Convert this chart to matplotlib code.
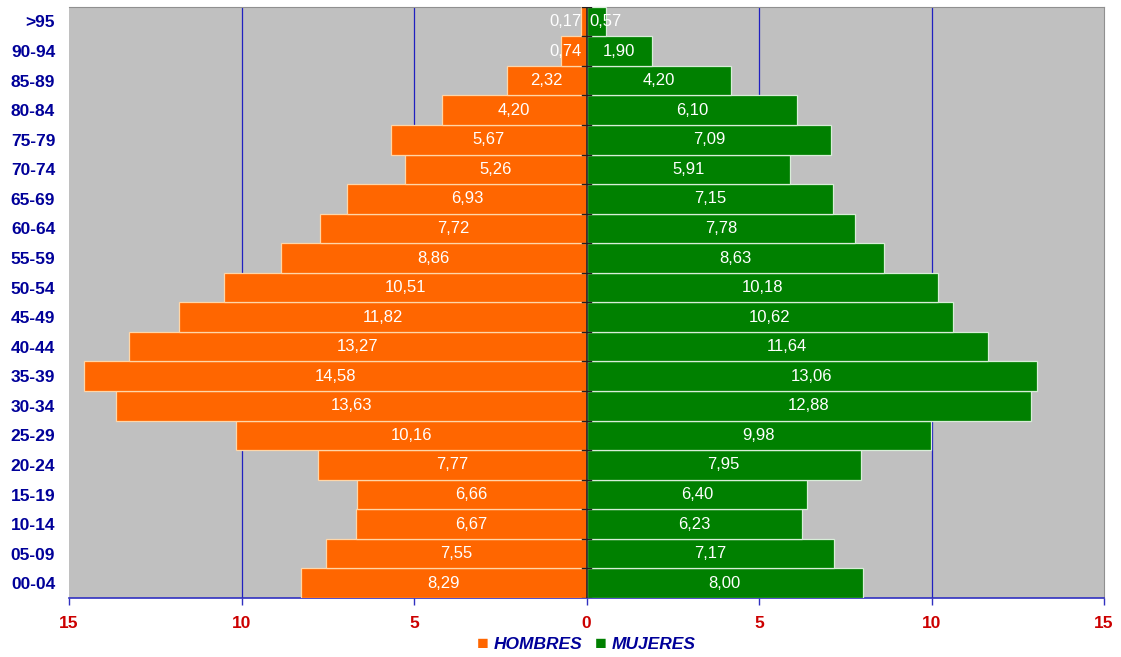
import numpy as np
import matplotlib.pyplot as plt

plt.rcParams['font.family'] = ['Liberation Sans', 'DejaVu Sans']

edades = ['00-04', '05-09', '10-14', '15-19', '20-24', '25-29', '30-34',
          '35-39', '40-44', '45-49', '50-54', '55-59', '60-64', '65-69',
          '70-74', '75-79', '80-84', '85-89', '90-94', '>95']
hombres = [8.29, 7.55, 6.67, 6.66, 7.77, 10.16, 13.63, 14.58, 13.27, 11.82,
           10.51, 8.86, 7.72, 6.93, 5.26, 5.67, 4.20, 2.32, 0.74, 0.17]
mujeres = [8.00, 7.17, 6.23, 6.40, 7.95, 9.98, 12.88, 13.06, 11.64, 10.62,
           10.18, 8.63, 7.78, 7.15, 5.91, 7.09, 6.10, 4.20, 1.90, 0.57]
ticks = [-15, -10, -5, 0, 5, 10, 15]

naranja = '#FF6600'
verde = '#008000'
azul = '#000099'
rojo = '#CC0000'

fig = plt.figure(figsize=(11.21, 6.57), dpi=100)
ax = fig.add_axes([0.0616, 0.0898, 0.9233, 0.9000])
ax.set_facecolor('#C0C0C0')

y = np.arange(len(edades))
h = np.array(hombres)
m = np.array(mujeres)
ax.barh(y, -h, height=1.0, color=naranja, edgecolor='#FFD6A8', linewidth=0.9, zorder=3)
ax.barh(y, m, height=1.0, color=verde, edgecolor='#D8EED8', linewidth=0.9, zorder=3)

def fmt(v):
    return f'{v:.2f}'.replace('.', ',')

for yi, v in zip(y, h):
    ax.text(-max(v / 2, 0.62), yi, fmt(v), color='white', fontsize=12,
            ha='center', va='center', zorder=5)
for yi, v in zip(y, m):
    ax.text(max(v / 2, 0.56), yi, fmt(v), color='white', fontsize=12,
            ha='center', va='center', zorder=5)

# vertical grid lines and the category axis at zero
for gx in [-10, -5, 5, 10]:
    ax.axvline(gx, color='#2020C0', linewidth=0.9, zorder=1)
ax.axvline(0, color='#202020', linewidth=1.2, zorder=4)
for yi in np.arange(-0.5, len(edades), 1.0):
    ax.plot([-0.12, 0.12], [yi, yi], color='#202020', linewidth=1.0, zorder=4)

ax.set_xlim(-15, 15)
ax.set_ylim(-0.5, len(edades) - 0.5)
ax.set_xticks(ticks)
ax.set_xticklabels([str(abs(t)) for t in ticks], color=rojo, fontsize=12.5,
                   fontweight='bold')
ax.set_yticks(y)
ax.set_yticklabels(edades, color=azul, fontsize=12.5, fontweight='bold')
ax.tick_params(axis='y', length=0, pad=10)
ax.tick_params(axis='x', length=5, color='#3030C0', width=1, pad=8)

ax.spines['left'].set_visible(False)
ax.spines['top'].set_color('#909090')
ax.spines['right'].set_color('#909090')
ax.spines['bottom'].set_color('#3030C0')
ax.spines['bottom'].set_linewidth(1.2)

# legend below the axis
ly = 0.0115
fig.text(0.4305, ly, '\u25A0', color=naranja, fontsize=14, ha='center', va='baseline')
fig.text(0.4405, ly, 'HOMBRES', color=azul, fontsize=12.5, fontweight='bold',
         fontstyle='italic', ha='left', va='baseline')
fig.text(0.5355, ly, '\u25A0', color=verde, fontsize=14, ha='center', va='baseline')
fig.text(0.5455, ly, 'MUJERES', color=azul, fontsize=12.5, fontweight='bold',
         fontstyle='italic', ha='left', va='baseline')

fig.savefig('out.png', dpi=100)
